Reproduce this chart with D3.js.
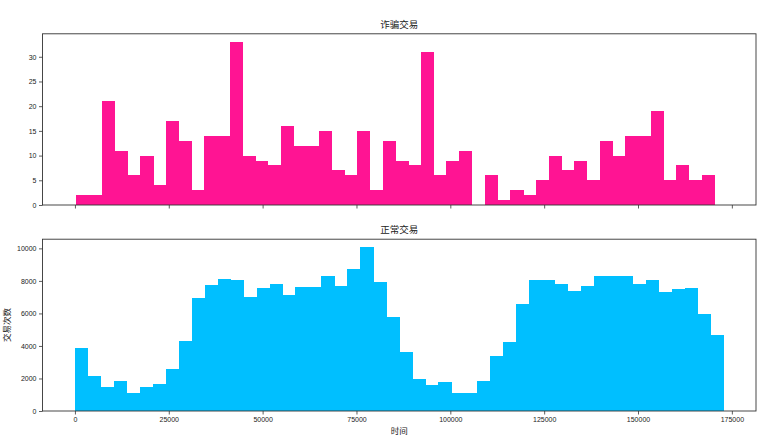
<!DOCTYPE html>
<html>
<head>
<meta charset="utf-8">
<script src="https://cdn.jsdelivr.net/npm/d3@7/dist/d3.min.js"></script>
<style>
  body { margin: 0; background: #fff; }
  text { font-family: "Liberation Sans", "Noto Sans CJK SC", sans-serif; fill: #222; }
  .cjk { font-family: "Noto Sans CJK SC", sans-serif; }
</style>
</head>
<body>
<svg width="762" height="438"></svg>
<script>
// 数据: 每个直方图 50 个区间的计数
const fraudRange = [406, 170348];
const fraudCounts = [2, 2, 21, 11, 6, 10, 4, 17, 13, 3, 14, 14, 33, 10, 9, 8, 16, 12, 12, 15,
  7, 6, 15, 3, 13, 9, 8, 31, 6, 9, 11, 0, 6, 1, 3, 2, 5, 10, 7, 9,
  5, 13, 10, 14, 14, 19, 5, 8, 5, 6];

const normalRange = [0, 172792];
const normalCounts = [3873, 2172, 1475, 1844, 1107, 1475, 1680, 2561, 4303, 6947,
  7725, 8115, 8033, 7008, 7561, 7828, 7152, 7623, 7623, 8320,
  7684, 8730, 10061, 7930, 5779, 3627, 1988, 1578, 1762, 1107,
  1127, 1844, 3402, 4242, 6578, 8053, 8033, 7807, 7357, 7684,
  8299, 8299, 8299, 7807, 8053, 7316, 7500, 7541, 5963, 4672];

const xTicks = [0, 25000, 50000, 75000, 100000, 125000, 150000, 175000];
const fraudTicks = [0, 5, 10, 15, 20, 25, 30];
const normalTicks = [0, 2000, 4000, 6000, 8000, 10000];

const svg = d3.select("svg");
const left = 42.5, right = 756;

// 共享 x 轴, 和 matplotlib 一样留 5% 边距
const xMin = Math.min(fraudRange[0], normalRange[0]),
    xMax = Math.max(fraudRange[1], normalRange[1]),
    pad = (xMax - xMin) * 0.05;
let x = d3.scaleLinear()
    .domain([xMin - pad, xMax + pad])
    .range([left, right]);

function toBins(range, counts) {
  let w = (range[1] - range[0]) / counts.length;
  return counts.map((c, i) => ({x0: range[0] + i * w, x1: range[0] + (i + 1) * w, n: c}));
}

function panel(top, bottom, bins, ticks, color, title, showXLabels) {
  let y = d3.scaleLinear()
      .domain([0, d3.max(bins, d => d.n) * 1.05])
      .range([bottom, top]);

  let g = svg.append("g");

  // 柱子用 crispEdges, 相邻柱子之间不出现细缝
  g.append("g")
      .attr("shape-rendering", "crispEdges")
      .selectAll("rect")
      .data(bins)
      .enter().append("rect")
      .attr("x", d => x(d.x0))
      .attr("width", d => x(d.x1) - x(d.x0) + 0.5)
      .attr("y", d => y(d.n))
      .attr("height", d => y(0) - y(d.n))
      .attr("fill", color);

  // 边框
  g.append("rect")
      .attr("x", left)
      .attr("y", top)
      .attr("width", right - left)
      .attr("height", bottom - top)
      .attr("fill", "none")
      .attr("stroke", "#333")
      .attr("stroke-width", 0.9);

  let yAxis = g.append("g")
      .attr("transform", "translate(" + left + ",0)")
      .call(d3.axisLeft(y).tickValues(ticks).tickSize(3.5).tickPadding(2.5).tickFormat(d3.format("d")));
  yAxis.select(".domain").remove();
  yAxis.selectAll("line").attr("stroke", "#333").attr("stroke-width", 0.8);
  yAxis.selectAll("text").style("font-size", "7px").attr("fill", "#222");

  let xAxis = g.append("g")
      .attr("transform", "translate(0," + bottom + ")")
      .call(d3.axisBottom(x).tickValues(xTicks).tickSize(3.5).tickPadding(3).tickFormat(showXLabels ? d3.format("d") : ""));
  xAxis.select(".domain").remove();
  xAxis.selectAll("line").attr("stroke", "#333").attr("stroke-width", 0.8);
  xAxis.selectAll("text").style("font-size", "7px").attr("fill", "#222");

  g.append("text")
      .attr("class", "cjk")
      .attr("x", (left + right) / 2)
      .attr("y", top - 6)
      .attr("text-anchor", "middle")
      .style("font-size", "9.5px")
      .text(title);

  return y;
}

panel(33.8, 205, toBins(fraudRange, fraudCounts), fraudTicks, "#FF1493", "诈骗交易", false);
panel(239.2, 411, toBins(normalRange, normalCounts), normalTicks, "#00BFFF", "正常交易", true);

svg.append("text")
    .attr("class", "cjk")
    .attr("x", (left + right) / 2)
    .attr("y", 434)
    .attr("text-anchor", "middle")
    .style("font-size", "8.5px")
    .text("时间");

svg.append("text")
    .attr("class", "cjk")
    .attr("transform", "translate(10," + (239.2 + 411) / 2 + ")rotate(-90)")
    .attr("text-anchor", "middle")
    .style("font-size", "8.5px")
    .text("交易次数");
</script>
</body>
</html>
